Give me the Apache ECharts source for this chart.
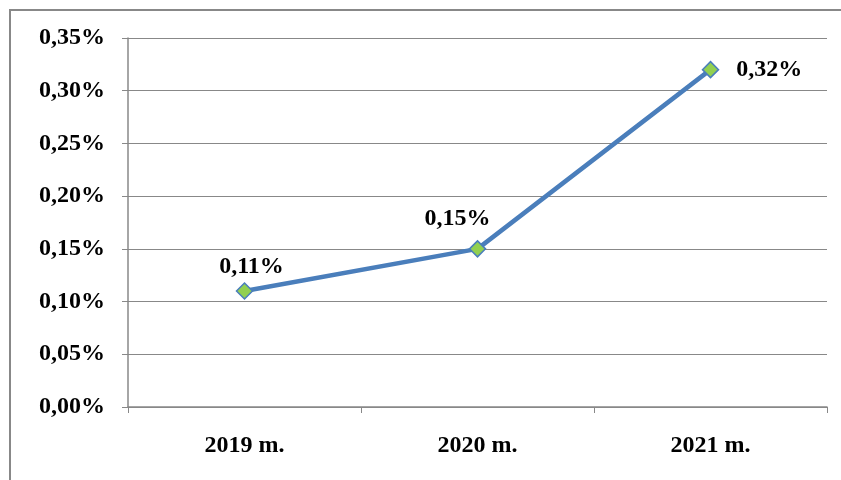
<!DOCTYPE html>
<html>
<head>
<meta charset="utf-8">
<script src="https://cdn.jsdelivr.net/npm/echarts@6/dist/echarts.min.js"></script>
<style>html,body{margin:0;padding:0;background:#fff}#c{width:841px;height:480px}</style>
</head>
<body>
<div id="c"></div>
<script>
const categories = ['2019 m.', '2020 m.', '2021 m.'];
const values = [0.11, 0.15, 0.32];
const yMin = 0, yMax = 0.35, yStep = 0.05;

const fmt = v => Number(v).toFixed(2).replace('.', ',') + '%';
const font = { fontFamily: '"Liberation Serif", "Times New Roman", serif', fontWeight: 'bold', fontSize: 24, color: '#000' };
const labelCfg = [
  { position: 'top', offset: [7, 2] },
  { position: 'top', offset: [-20, -4] },
  { position: 'right', distance: 17 }
];

const chart = echarts.init(document.getElementById('c'));
chart.setOption({
  animation: false,
  backgroundColor: '#fff',
  graphic: [{
    type: 'rect', shape: { x: 10, y: 10, width: 1000, height: 700 },
    style: { fill: 'none', stroke: '#888', lineWidth: 2 }, silent: true
  }],
  grid: { left: 128, top: 38, right: 14, bottom: 73 },
  xAxis: {
    type: 'category', data: categories, boundaryGap: true,
    axisLine: { lineStyle: { color: '#888', width: 1.5 } },
    axisTick: { show: true, length: 6, lineStyle: { color: '#888' } },
    axisLabel: Object.assign({ margin: 27 }, font),
    splitLine: { show: false }
  },
  yAxis: {
    type: 'value', min: yMin, max: yMax, interval: yStep,
    axisLine: { show: true, lineStyle: { color: '#888', width: 1.5 } },
    axisTick: { show: true, length: 6, lineStyle: { color: '#888' } },
    axisLabel: Object.assign({ margin: 23, formatter: fmt }, font),
    splitLine: { show: true, lineStyle: { color: '#888', width: 1.2 } }
  },
  series: [{
    type: 'line',
    data: values.map((v, i) => ({ value: v, label: labelCfg[i] })),
    lineStyle: { color: '#4a7ebb', width: 4.5 },
    symbol: 'diamond', symbolSize: 16,
    itemStyle: { color: '#92d050', borderColor: '#4a7ebb', borderWidth: 1.5 },
    label: Object.assign({ show: true, formatter: p => fmt(p.value) }, font),
    z: 5
  }]
});
</script>
</body>
</html>
